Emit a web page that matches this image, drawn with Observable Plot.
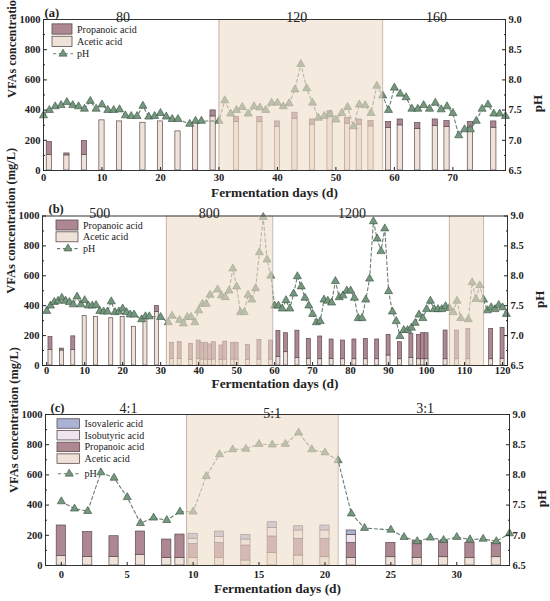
<!DOCTYPE html>
<html><head><meta charset="utf-8">
<script src="https://cdn.jsdelivr.net/npm/d3@7"></script>
<script src="https://cdn.jsdelivr.net/npm/@observablehq/plot@0.6"></script>
<style>
body{margin:0;background:#fff;}
#chart{width:550px;}
#chart svg{display:block;}
</style></head><body><div id="chart"></div>
<script>
// ---------- Panel (a) ----------
const aPhDays = [0,1,2,3,4,5,6,7,8,9,10,11,12,13,14,15,16,17,18,19,20,21,22,23,25,26,27,30,31,32,33,34,35,36,37,38,39,40,41,42,43,44,45,46,47,48,49,50,51,52,53,54,55,56,57,58,59,60,61,62,63,64,65,66,67,68,69,70,71,72,73,74,75,76,77,78,79];
const aPh = [7.41,7.50,7.56,7.58,7.63,7.58,7.56,7.52,7.65,7.52,7.59,7.50,7.50,7.51,7.41,7.40,7.40,7.57,7.39,7.40,7.45,7.39,7.35,7.35,7.27,7.32,7.32,7.32,7.66,7.44,7.50,7.55,7.44,7.56,7.54,7.50,7.62,7.62,7.56,7.61,7.84,8.26,7.86,7.62,7.37,7.40,7.43,7.34,7.45,7.55,7.23,7.59,7.58,7.45,7.90,7.74,7.50,7.87,7.77,7.71,7.52,7.52,7.58,7.52,7.62,7.51,7.56,7.45,7.08,7.18,7.18,7.32,7.52,7.59,7.44,7.44,7.40];
const aBarDays = [1,4,7,10,13,17,20,23,26,29,33,37,40,43,46,49,52,54,56,59,61,64,67,69,73,77];
const aAcetic = [104,100,104,332,325,316,325,259,315,358,320,320,288,343,303,354,310,303,292,281,299,276,294,288,283,283];
const aPropanoic = [84,13,91,0,0,0,0,0,0,40,35,35,37,40,35,38,40,35,35,40,39,38,44,39,38,42];
const aShades = [[30,58]];
const aTopLabels = ["80","120","160"];
const aTopLabelDays = [13.6,43.3,67.2];

// ---------- Panel (b) ----------
const bPhDays = [0,1,2,3,4,5,6,7,8,9,10,11,12,13,14,15,16,17,18,19,20,21,22,23,25,26,27,30,32,33,35,36,37,38,39,40,41,42,43,45,46,47,48,49,50,51,52,53,54,55,56,57,58,59,60,61,62,63,64,65,66,67,68,69,70,71,72,73,74,75,76,77,78,79,80,81,82,83,84,85,86,87,88,89,90,91,92,93,94,95,96,97,98,99,100,101,102,103,104,105,106,107,108,109,111,112,113,114,115,116,117,118,119,120,121];
const bPh = [7.41,7.50,7.56,7.58,7.63,7.58,7.56,7.52,7.65,7.52,7.59,7.50,7.50,7.51,7.41,7.40,7.40,7.57,7.39,7.40,7.45,7.39,7.35,7.35,7.27,7.32,7.32,7.31,7.22,7.33,7.26,7.20,7.31,7.31,7.22,7.42,7.53,7.53,7.68,7.77,7.67,7.64,7.75,8.12,7.82,7.39,7.39,7.68,7.60,7.79,8.39,8.98,8.27,8.00,7.50,7.50,7.45,7.59,7.45,7.70,7.99,7.82,7.63,7.50,7.36,7.22,7.24,7.60,7.58,7.55,7.91,7.64,7.67,7.75,7.75,7.63,7.29,7.29,7.60,7.95,8.91,8.62,8.41,8.79,7.74,7.40,7.24,6.99,7.09,7.09,7.13,7.21,7.35,7.29,7.44,7.58,7.44,7.44,7.44,7.49,7.46,7.39,7.58,7.29,7.27,7.89,7.61,7.84,7.60,7.42,7.47,7.44,7.51,7.47,7.36];
const bBarDays = [1,4,7,10,13,17,20,23,26,29,33,35,38,40,41,42,43,44,46,47,49,50,53,56,59,61,63,66,69,72,75,78,81,84,87,90,93,96,98,99,100,105,108,111,117,120];
const bAcetic = [104,100,104,332,325,316,325,259,315,358,45,45,38,45,40,40,38,40,38,40,40,40,38,40,40,56,89,51,45,42,45,42,42,42,42,67,42,51,42,42,42,42,42,42,42,45];
const bPropanoic = [86,13,91,0,0,0,0,0,0,40,107,111,107,122,112,112,103,116,96,120,112,112,100,131,127,174,127,182,133,152,129,125,132,136,132,138,114,161,163,174,174,192,192,203,203,207];
const bShades = [[31.5,59.5],[106,115]];
const bTopLabels = ["500","800","1200"];
const bTopLabelDays = [14,42.8,80.4];

// ---------- Panel (c) ----------
const cPhDays = [0,1,2,3,4,5,6,7,8,9,10,11,12,13,14,15,16,17,18,19,20,21,22,23,25,26,27,28,29,30,31,32,33,34];
const cPh = [7.56,7.44,7.40,8.04,7.95,7.63,7.20,7.29,7.25,7.39,7.39,7.98,8.34,8.42,8.43,8.51,8.50,8.51,8.70,8.42,8.37,8.24,7.36,7.12,7.09,6.97,6.90,6.96,6.92,6.97,6.93,6.94,6.90,7.03];
const cBarDays = [0,2,4,6,8,9,10,12,14,16,18,20,22,25,27,29,31,33];
const cAcetic = [62,57,57,71,50,50,50,50,33,84,66,55,49,55,50,55,50,55];
const cPropanoic = [203,164,137,154,122,155,93,98,99,108,111,122,99,95,111,106,100,95];
const cIsobutyric = [0,0,0,0,0,0,34,40,40,57,55,55,55,0,0,0,0,0];
const cIsovaleric = [0,0,0,0,0,0,33,37,31,38,28,33,29,0,0,0,0,0];
const cShades = [[9.5,21]];
const cTopLabels = ["4:1","5:1","3:1"];
const cTopLabelDays = [5.1,16,27.6];
const cTopLabelDy = [-4,1,-4];

const acidColors = {
  "Acetic acid": "#efe3d9",
  "Propanoic acid": "#ad8792",
  "Isobutyric acid": "#efe5ef",
  "Isovaleric acid": "#a9b3d6"
};
const yTicks = [0,200,400,600,800,1000];
const yMinor = [100,300,500,700,900];
const FONT = "Liberation Serif, Times New Roman, serif";
const Y_TITLE = "VFAs concentration (mg/L)";
const X_TITLE = "Fermentation days (d)";

function stackRows(days, series) {
  const rows = [];
  days.forEach((d, i) => {
    let base = 0;
    for (const [name, vals] of series) {
      const v = vals[i];
      if (v > 0) rows.push({day: d, acid: name, y1: base, y2: base + v});
      base += v;
    }
  });
  return rows;
}

function makePanel(cfg) {
  const ph = cfg.phDays.map((d, i) => ({day: d, pH: cfg.ph[i]}));
  const rows = stackRows(cfg.barDays, cfg.series);
  const shades = cfg.shades.map(([a, b]) => ({a, b}));
  const tops = cfg.topLabels.map((t, i) => ({t, day: cfg.topDays[i]}));
  const hw = cfg.barWidth / 2;
  const phY = d => (d.pH - 6.5) * 400;
  return Plot.plot({
    width: 550,
    height: cfg.height,
    marginTop: cfg.mt, marginBottom: cfg.mb, marginLeft: cfg.ml, marginRight: cfg.mr,
    style: {fontFamily: FONT, fontSize: "10.5px", fontWeight: "bold", color: "#222", overflow: "visible", background: "transparent"},
    x: {domain: cfg.xDomain},
    y: {domain: [0, 1000]},
    marks: [
      Plot.rect(rows, {x1: d => d.day - hw, x2: d => d.day + hw, y1: "y1", y2: "y2",
        fill: d => acidColors[d.acid], stroke: "#5e4b4e", strokeWidth: 0.7}),
      Plot.line(ph, {x: "day", y: phY, stroke: "#6a7d71", strokeWidth: 1.1, strokeDasharray: "3.2,2.6"}),
      Plot.dot(ph, {x: "day", y: phY, symbol: "triangle", r: 3.0, fill: "#74977d", stroke: "#36503f", strokeWidth: 0.6}),
      Plot.rect(shades, {x1: "a", x2: "b", fill: "rgb(238,220,200)", fillOpacity: 0.6}),
      Plot.ruleX(shades, {x: "a", stroke: "#b9a89a", strokeWidth: 0.8}),
      Plot.ruleX(shades, {x: "b", stroke: "#b9a89a", strokeWidth: 0.8}),
      Plot.frame({stroke: "#333", strokeWidth: 1}),
      Plot.axisX({ticks: cfg.xTicks, tickSize: -3, tickPadding: cfg.xPad, label: null, tickFormat: d => String(d)}),
      Plot.axisY({ticks: yTicks, tickSize: -4, tickPadding: 7, label: null, tickFormat: d => String(d)}),
      Plot.axisY({ticks: yMinor, tickSize: -2, tickPadding: 0, label: null, tickFormat: () => ""}),
      Plot.axisY({anchor: "right", ticks: yTicks, tickSize: -4, tickPadding: 7, label: null, tickFormat: d => (6.5 + d / 400).toFixed(1)}),
      Plot.axisY({anchor: "right", ticks: yMinor, tickSize: -2, tickPadding: 0, label: null, tickFormat: () => ""}),
      Plot.text([Y_TITLE], {frameAnchor: "left", rotate: -90, dx: -31, dy: 3, fontSize: 12.3, fontWeight: "bold"}),
      Plot.text(["pH"], {frameAnchor: "right", rotate: -90, dx: 32, fontSize: 13, fontWeight: "bold"}),
      Plot.text([X_TITLE], {frameAnchor: "bottom", lineAnchor: "middle", dy: cfg.titleDy, fontSize: 13, fontWeight: "bold"}),
      Plot.text([cfg.letter], {frameAnchor: "top-left", textAnchor: "start", lineAnchor: "bottom", dy: -3, dx: cfg.letterDx, fontSize: 12.5, fontWeight: "bold"}),
      Plot.text(tops, {x: "day", text: "t", frameAnchor: "top", lineAnchor: "bottom", fontSize: 14, fontWeight: "normal"})
    ]
  });
}

function fitTitles(svg, yLen, xLen) {
  svg.querySelectorAll("text").forEach(t => {
    if (t.textContent === Y_TITLE) { t.setAttribute("textLength", yLen); t.setAttribute("lengthAdjust", "spacingAndGlyphs"); }
    if (t.textContent === X_TITLE) { t.setAttribute("textLength", xLen); t.setAttribute("lengthAdjust", "spacingAndGlyphs"); }
  });
}

function addLegend(svg, x, y0, step, boxW, boxH, items) {
  const g = d3.select(svg).append("g").attr("font-family", FONT).attr("font-size", 10)
    .attr("font-weight", "normal").attr("fill", "#222").attr("text-anchor", "start");
  items.forEach((it, i) => {
    const cy = y0 + i * step + (it.extra || 0);
    if (it.type === "box") {
      g.append("rect").attr("x", x).attr("y", cy - boxH / 2).attr("width", boxW).attr("height", boxH)
        .attr("fill", acidColors[it.label]).attr("stroke", "#5e4b4e").attr("stroke-width", 0.8);
    } else {
      g.append("line").attr("x1", x + 1).attr("x2", x + boxW + 1).attr("y1", cy).attr("y2", cy)
        .attr("stroke", "#6a7d71").attr("stroke-width", 1.1).attr("stroke-dasharray", "3.2,2.6");
      const r = 3.0;
      g.append("path").attr("d", d3.symbol(d3.symbolTriangle, Math.PI * r * r)())
        .attr("transform", `translate(${x + boxW / 2 + 1},${cy})`)
        .attr("fill", "#74977d").attr("stroke", "#36503f").attr("stroke-width", 0.6);
    }
    g.append("text").attr("x", x + boxW + 5).attr("y", cy).attr("dy", "0.35em").text(it.label);
  });
}

function shiftTopLabels(svg, dys) {
  const groups = svg.querySelectorAll("g[aria-label='text']");
  const g = groups[groups.length - 1];
  g.querySelectorAll("text").forEach((t, i) => {
    const tr = t.getAttribute("transform") || "";
    t.setAttribute("transform", tr + ` translate(0,${dys[i] + 2})`);
  });
}

const root = document.getElementById("chart");

const pa = makePanel({
  height: 196, mt: 19, mb: 26, ml: 43, mr: 45,
  xDomain: [0, 79], xTicks: [0,10,20,30,40,50,60,70], xPad: 6, titleDy: 22,
  phDays: aPhDays, ph: aPh, barDays: aBarDays,
  series: [["Acetic acid", aAcetic], ["Propanoic acid", aPropanoic]],
  barWidth: 0.9, shades: aShades, topLabels: aTopLabels, topDays: aTopLabelDays,
  letter: "(a)", letterDx: 1
});
root.appendChild(pa);
shiftTopLabels(pa, [0,0,0]);
fitTitles(pa, 144, 127);
addLegend(pa, 52, 29, 12.4, 20, 10.3, [
  {type: "box", label: "Propanoic acid"},
  {type: "box", label: "Acetic acid"},
  {type: "ph", label: "pH"}
]);

const pb = makePanel({
  height: 199, mt: 19.5, mb: 30, ml: 42, mr: 43,
  xDomain: [-1.1, 121.3], xTicks: [0,10,20,30,40,50,60,70,80,90,100,110,120], xPad: 4.5, titleDy: 18,
  phDays: bPhDays, ph: bPh, barDays: bBarDays,
  series: [["Acetic acid", bAcetic], ["Propanoic acid", bPropanoic]],
  barWidth: 1.05, shades: bShades, topLabels: bTopLabels, topDays: bTopLabelDays,
  letter: "(b)", letterDx: 6
});
root.appendChild(pb);
shiftTopLabels(pb, [0,0,0]);
fitTitles(pb, 146, 127);
addLegend(pb, 56, 29, 11.8, 22, 10, [
  {type: "box", label: "Propanoic acid"},
  {type: "box", label: "Acetic acid"},
  {type: "ph", label: "pH"}
]);

const pc = makePanel({
  height: 206, mt: 19, mb: 36, ml: 45, mr: 41,
  xDomain: [-1.2, 34], xTicks: [0,5,10,15,20,25,30], xPad: 8.5, titleDy: 23,
  phDays: cPhDays, ph: cPh, barDays: cBarDays,
  series: [["Acetic acid", cAcetic], ["Propanoic acid", cPropanoic], ["Isobutyric acid", cIsobutyric], ["Isovaleric acid", cIsovaleric]],
  barWidth: 0.7, shades: cShades, topLabels: cTopLabels, topDays: cTopLabelDays,
  letter: "(c)", letterDx: 5
});
root.appendChild(pc);
shiftTopLabels(pc, cTopLabelDy);
fitTitles(pc, 146, 127);
addLegend(pc, 57, 28.5, 11.7, 22.5, 9.5, [
  {type: "box", label: "Isovaleric acid"},
  {type: "box", label: "Isobutyric acid"},
  {type: "box", label: "Propanoic acid"},
  {type: "box", label: "Acetic acid"},
  {type: "ph", label: "pH", extra: 3.5}
]);
</script>
</body></html>
